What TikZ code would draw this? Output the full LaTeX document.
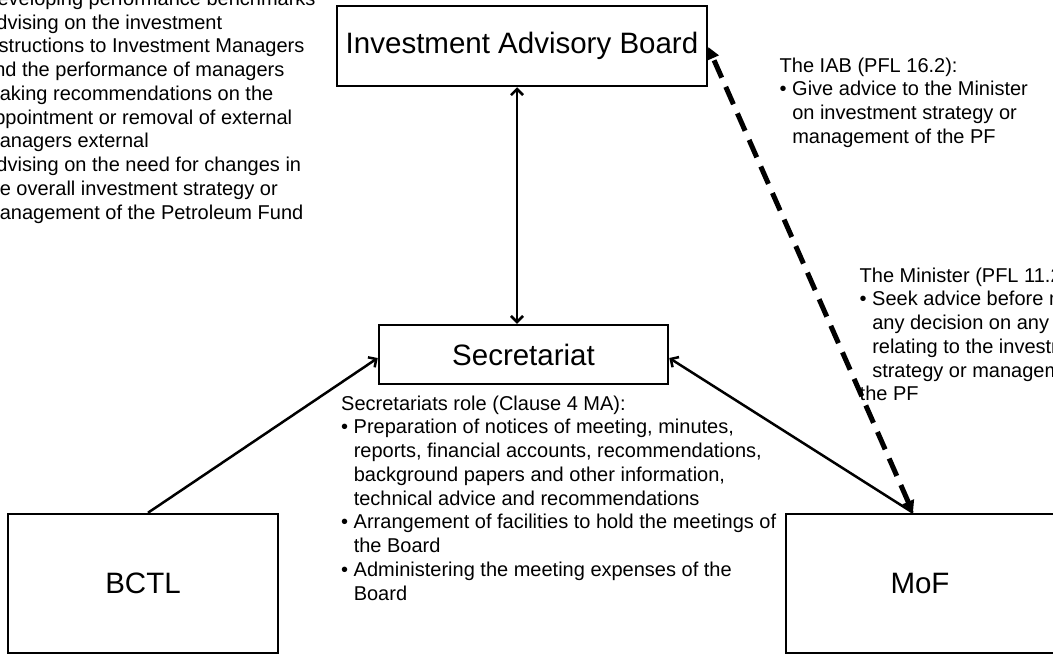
\documentclass[tikz,border=0pt]{standalone}
\usepackage{fontspec}
\setmainfont{Liberation Sans}
\usetikzlibrary{arrows.meta}
% hanging indent for the continuation lines of a bulleted item
\newcommand\ind{\hspace*{12.56pt}}

\begin{document}
\begin{tikzpicture}[x=1pt,y=-1pt,
  box/.style={draw, line width=2.5pt, inner sep=0pt, font=\fontsize{29.5}{35}\selectfont},
  note/.style={anchor=north west, inner sep=0pt, align=left, font=\fontsize{20}{23.75}\selectfont},
  barb/.tip={Straight Barb[length=6pt,width=12pt]},
  link/.style={line width=2.5pt, -barb},
  twoway/.style={line width=2.5pt, barb-barb},
  advice/.style={line width=5pt, dash pattern=on 19pt off 10pt,
    {Triangle[length=12pt,width=12pt]}-{Triangle[length=12pt,width=12pt]}}
]
\useasboundingbox (0,0) rectangle (1053,654);
\clip (0,0) rectangle (1053,654);

% organisational units
\node[box, minimum width=370pt, minimum height=80pt] (iab) at (522,46) {Investment Advisory Board};
\node[box, minimum width=289pt, minimum height=59pt] (sec) at (523.5,354.5) {Secretariat};
\node[box, minimum width=270pt, minimum height=139pt] (bctl) at (143,583.5) {BCTL};
\node[box, minimum width=268pt, minimum height=139pt] (mof) at (920,583.5) {MoF};

% duties
\node[note] (iabduty) at (-29.6,-11.4) {\strut• Developing performance benchmarks\\
• Advising on the investment\\
\ind instructions to Investment Managers\\
\ind and the performance of managers\\
• Making recommendations on the\\
\ind appointment or removal of external\\
\ind managers external\\
• Advising on the need for changes in\\
\ind the overall investment strategy or\\
\ind management of the Petroleum Fund};

\node[note] (secrole) at (341,393.4) {\strut Secretariats role (Clause 4 MA):\\
• Preparation of notices of meeting, minutes,\\
\ind reports, financial accounts, recommendations,\\
\ind background papers and other information,\\
\ind technical advice and recommendations\\
• Arrangement of facilities to hold the meetings of\\
\ind the Board\\
• Administering the meeting expenses of the\\
\ind Board};

\node[note] (iablaw) at (779.5,55.4) {\strut The IAB (PFL 16.2):\\
• Give advice to the Minister\\
\ind on investment strategy or\\
\ind management of the PF};

\node[note] (minlaw) at (859.5,265.4) {\strut The Minister (PFL 11.2):\\
• Seek advice before making\\
\ind any decision on any matter\\
\ind relating to the investment\\
\ind strategy or management of\\
the PF};

% relations
\draw[twoway] ([xshift=-5pt]iab.south) -- ([xshift=-6.5pt]sec.north);
\draw[link] ([xshift=5pt]bctl.north) -- ([yshift=-3.5pt]sec.west);
\draw[link] ([xshift=-7pt]mof.north) -- ([yshift=-3.5pt]sec.east);
\draw[advice] ([xshift=-7pt]mof.north) -- ([yshift=-1pt]iab.east);
\end{tikzpicture}
\end{document}
